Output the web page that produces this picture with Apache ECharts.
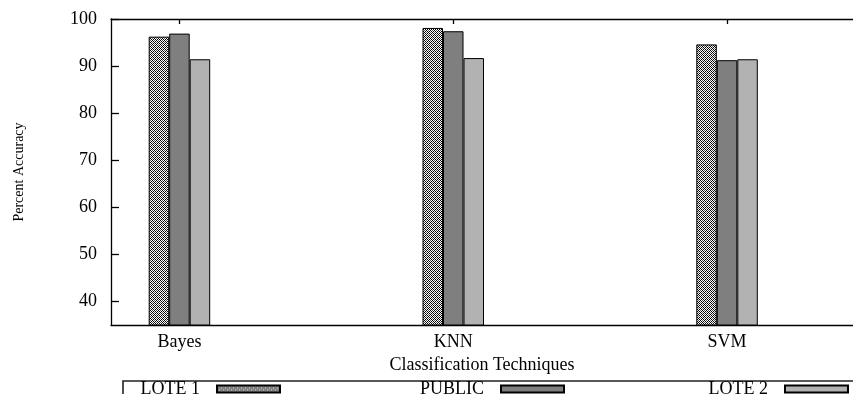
<!DOCTYPE html>
<html>
<head>
<meta charset="utf-8">
<script src="https://cdn.jsdelivr.net/npm/echarts@6/dist/echarts.min.js"></script>
<style>html,body{margin:0;padding:0;background:#fff;}#c{width:853px;height:394px;}</style>
</head>
<body>
<div id="c"></div>
<script>
// ---- data ----
const categories = ['Bayes', 'KNN', 'SVM'];
const seriesNames = ['LOTE 1', 'PUBLIC', 'LOTE 2'];
const lote1 = [96.25, 98.1, 94.6];
const publicData = [96.9, 97.4, 91.25];
const lote2 = [91.45, 91.7, 91.45];
const yTicks = [40, 50, 60, 70, 80, 90, 100];
const xTicks = [0, 1, 2];

// crosshatch pattern for LOTE 1
const pc = document.createElement('canvas');
pc.width = 4; pc.height = 4;
const pctx = pc.getContext('2d');
pctx.fillStyle = '#ffffff';
pctx.fillRect(0, 0, 4, 4);
for (let x = 0; x < 4; x++) {
  for (let y = 0; y < 4; y++) {
    if ((x + y) % 4 === 0 || (x - y + 4) % 4 === 0) {
      pctx.fillStyle = '#000000';
      pctx.fillRect(x, y, 1, 1);
    } else if ((x === 2 && y === 0) || (x === 0 && y === 2)) {
      pctx.fillStyle = '#555555';
      pctx.fillRect(x, y, 1, 1);
    }
  }
}
const hatch = { image: pc, repeat: 'repeat' };

const toPairs = arr => arr.map((v, i) => [i, v]);
const serif = 'Liberation Serif';

const chart = echarts.init(document.getElementById('c'), null, { renderer: 'canvas' });

function barSeries(name, data, color) {
  return {
    name: name,
    type: 'bar',
    xAxisIndex: 0,
    yAxisIndex: 0,
    data: toPairs(data),
    barWidth: 20.5,
    barGap: '0%',
    itemStyle: { color: color, borderColor: '#000', borderWidth: 1 },
    emphasis: { disabled: true },
    animation: false
  };
}

function legendFor(name, right) {
  return {
    data: [name],
    align: 'right',
    right: right,
    top: 380,
    padding: 0,
    itemWidth: 63,
    itemHeight: 7,
    icon: 'rect',
    selectedMode: false,
    textStyle: { fontFamily: serif, fontSize: 18, color: '#000', padding: [0, 12, 0, 0] }
  };
}

const axisLineStyle = { color: '#000', width: 1.3 };

const option = {
  animation: false,
  backgroundColor: '#fff',
  grid: { left: 111, right: 0, top: 19, bottom: 69, containLabel: false },
  xAxis: [
    {
      type: 'value',
      position: 'bottom',
      min: -0.25,
      max: 2.46,
      axisLine: { show: true, onZero: false, lineStyle: axisLineStyle },
      axisTick: { show: false },
      splitLine: { show: false },
      axisLabel: {
        customValues: xTicks,
        formatter: v => categories[Math.round(v)] || '',
        fontFamily: serif, fontSize: 18, color: '#000', margin: 8
      },
      name: 'Classification Techniques',
      nameLocation: 'middle',
      nameGap: 27,
      nameTextStyle: { fontFamily: serif, fontSize: 18, color: '#000' }
    },
    {
      type: 'value',
      position: 'top',
      min: -0.25,
      max: 2.46,
      axisLine: { show: true, onZero: false, lineStyle: axisLineStyle },
      axisTick: { show: true, inside: true, length: 5, customValues: xTicks, lineStyle: axisLineStyle },
      axisLabel: { show: false },
      splitLine: { show: false }
    }
  ],
  yAxis: {
    type: 'value',
    min: 35,
    max: 100,
    axisLine: { show: true, onZero: false, lineStyle: axisLineStyle },
    axisTick: { show: true, inside: true, length: 8, customValues: yTicks, lineStyle: axisLineStyle },
    splitLine: { show: false },
    axisLabel: { customValues: yTicks, fontFamily: serif, fontSize: 18, color: '#000', margin: 14 },
    name: 'Percent Accuracy',
    nameLocation: 'middle',
    nameGap: 85,
    nameTextStyle: { fontFamily: serif, fontSize: 14, color: '#000' }
  },
  legend: [
    legendFor(seriesNames[0], 853 - 281),
    legendFor(seriesNames[1], 853 - 565),
    legendFor(seriesNames[2], 853 - 849)
  ],
  graphic: [
    {
      type: 'rect',
      shape: { x: 123, y: 381, width: 760, height: 40 },
      style: { fill: 'none', stroke: '#222', lineWidth: 1.6 },
      silent: true
    }
  ],
  series: [
    barSeries(seriesNames[0], lote1, hatch),
    barSeries(seriesNames[1], publicData, '#7f7f7f'),
    barSeries(seriesNames[2], lote2, '#b2b2b2')
  ]
};
chart.setOption(option);
</script>
</body>
</html>
